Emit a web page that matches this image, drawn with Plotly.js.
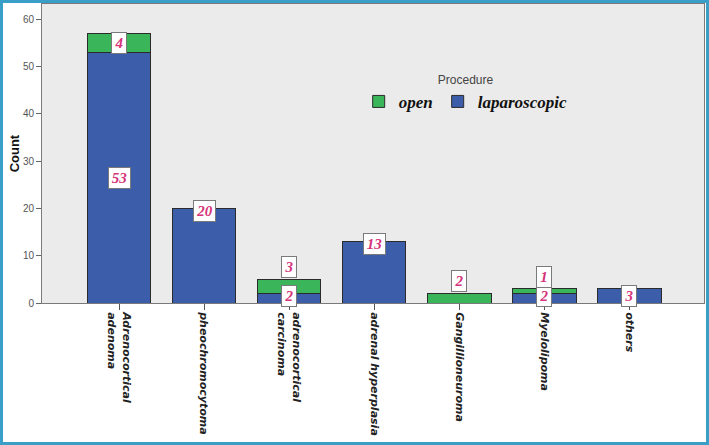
<!DOCTYPE html>
<html>
<head>
<meta charset="utf-8">
<script src="https://cdn.plot.ly/plotly-3.0.1.min.js"></script>
<style>
  html, body { margin: 0; padding: 0; background: #ffffff; }
  #wrap { position: relative; width: 709px; height: 445px; }
  #chart { position: absolute; left: 0; top: 0; width: 709px; height: 445px; }
  #frame { position: absolute; left: 0; top: 0; width: 709px; height: 445px; box-sizing: border-box; border: 3px solid #3a9fc6; pointer-events: none; }
</style>
</head>
<body>
<div id="wrap">
  <div id="chart"></div>
  <div id="frame"></div>
</div>
<script>
// ---- data ----
const categories = [
  "Adrenocortical<br>adenoma",
  "pheochromocytoma",
  "adrenocortical<br>carcinoma",
  "adrenal hyperplasia",
  "Gangillioneuroma",
  "Myelolipoma",
  "others"
];
const laparoscopic = [53, 20, 2, 13, 0, 2, 3];
const open = [4, 0, 3, 0, 2, 1, 0];
const seriesNames = ["laparoscopic", "open"];
const legendTitle = "Procedure";
const yTitle = "Count";
const yTicks = [0, 10, 20, 30, 40, 50, 60];

// ---- style ----
const blue = "#3b5daa";
const green = "#3bb55a";
const outline = "#2b2b2b";
const idx = categories.map((_, i) => i);

const traces = [
  {
    type: "bar", name: seriesNames[0], x: idx, y: laparoscopic,
    width: 0.75,
    marker: { color: blue, line: { color: outline, width: 1 } },
    hoverinfo: "skip"
  },
  {
    type: "bar", name: seriesNames[1], x: idx, y: open,
    width: 0.75,
    marker: { color: green, line: { color: outline, width: 1 } },
    hoverinfo: "skip"
  }
];

// value labels (placement rule approximating SPSS)
const labelFont = { family: "Liberation Serif, Times New Roman, serif", size: 15, color: "#d6337a", weight: "bold", style: "italic" };
function box(i, y, v) {
  const t = String(v);
  return {
    x: i, y: y, xref: "x", yref: "y", text: t, showarrow: false,
    font: labelFont, bgcolor: "#ffffff", bordercolor: "#7a7a7a", borderwidth: 1,
    borderpad: 2, width: t.length > 1 ? 17 : 10, height: 16, align: "center", valign: "middle"
  };
}
const annotations = [];
idx.forEach(i => {
  const l = laparoscopic[i], o = open[i];
  if (l > 0) {
    const y = l >= 40 ? l / 2 : (l >= 10 ? l - 0.5 : 1.4);
    annotations.push(box(i, y, l));
  }
  if (o > 0) {
    const y = o >= 4 ? l + o / 2 : l + o + 2.6;
    annotations.push(box(i, y, o));
  }
});
// y-axis title placed like SPSS
annotations.push({
  xref: "paper", yref: "paper", x: -0.041, y: 0.5, xanchor: "center", yanchor: "middle",
  text: yTitle, textangle: -90, showarrow: false,
  font: { family: "Liberation Sans, Arial, sans-serif", size: 13, color: "#111", weight: "bold" }
});

const layout = {
  width: 709, height: 445,
  margin: { l: 42, r: 5, t: 4, b: 142 },
  paper_bgcolor: "rgba(0,0,0,0)",
  plot_bgcolor: "#ebebeb",
  barmode: "stack",
  bargap: 0.25,
  showlegend: true,
  legend: {
    orientation: "h",
    traceorder: "reversed",
    x: 0.64, xanchor: "center",
    y: 0.785, yanchor: "top",
    bgcolor: "rgba(0,0,0,0)",
    font: { family: "Liberation Serif, Times New Roman, serif", size: 17, color: "#111", weight: "bold", style: "italic" },
    title: { text: legendTitle, side: "top center", font: { family: "Liberation Sans, Arial, sans-serif", size: 12, color: "#444", weight: "normal", style: "normal" } },
    itemclick: false, itemdoubleclick: false
  },
  xaxis: {
    type: "linear",
    range: [-0.906, 6.88],
    tickmode: "array", tickvals: idx, ticktext: categories,
    tickangle: 90,
    ticks: "outside", ticklen: 6, tickcolor: "#555", tickwidth: 1,
    tickfont: { family: "DejaVu Sans, Verdana, sans-serif", size: 11, color: "#222", weight: "bold", style: "italic" },
    showline: true, linecolor: "#7a7a7a", linewidth: 1, mirror: true,
    showgrid: false, zeroline: false, fixedrange: true
  },
  yaxis: {
    range: [0, 63.2],
    tickmode: "array", tickvals: yTicks,
    ticks: "outside", ticklen: 5, tickcolor: "#666", tickwidth: 1,
    tickfont: { family: "Liberation Sans Narrow, Liberation Sans, Arial, sans-serif", size: 10, color: "#555" },
    showline: true, linecolor: "#7a7a7a", linewidth: 1, mirror: true,
    showgrid: false, zeroline: false, fixedrange: true
  },
  annotations: annotations
};

Plotly.newPlot("chart", traces, layout, { staticPlot: true, displayModeBar: false });
</script>
</body>
</html>
